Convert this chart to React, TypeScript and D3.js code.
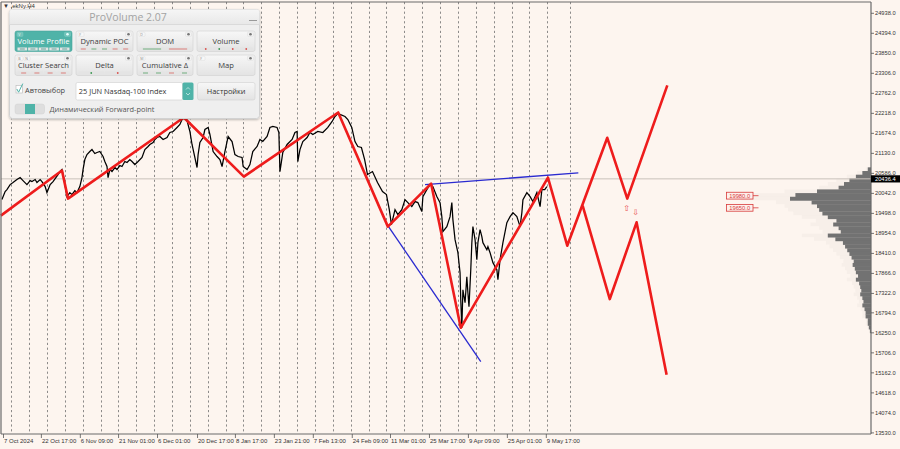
import React from 'react';
import * as d3 from 'd3';

// ---------- data ----------
const yTickValues = [24938, 24394, 23850, 23306, 22762, 22218, 21674, 21130, 20586, 20042, 19498, 18954, 18410, 17866, 17322, 16794, 16250, 15706, 15162, 14618, 14074, 13530];
const timeLabels = ['7 Oct 2024', '22 Oct 17:00', '6 Nov 09:00', '21 Nov 01:00', '6 Dec 01:00', '20 Dec 17:00', '8 Jan 17:00', '23 Jan 21:00', '7 Feb 13:00', '24 Feb 09:00', '11 Mar 01:00', '25 Mar 17:00', '9 Apr 09:00', '25 Apr 01:00', '9 May 17:00'];
const timeLabelDays = [0, 10.6, 21.5, 32.2, 43.1, 54.3, 64.9, 75.8, 86.7, 97.6, 108.3, 119.2, 130.1, 141.0, 151.9];

const priceDays = [-0.3, 0.6, 1.1, 2.0, 2.8, 3.9, 4.8, 5.6, 6.7, 7.6, 8.1, 9.0, 9.5, 10.4, 10.9, 11.8, 12.3, 13.2, 14.0, 14.8, 15.4, 15.9, 16.5, 17.1, 17.9, 18.7, 19.3, 20.1, 20.7, 21.5, 22.1, 22.4, 22.9, 23.5, 24.3, 24.9, 25.7, 26.3, 27.1, 28.0, 28.5, 29.1, 29.4, 29.9, 30.5, 31.3, 31.9, 32.7, 33.3, 34.1, 34.7, 35.5, 36.1, 36.9, 37.8, 38.9, 39.7, 40.6, 41.1, 42.0, 42.5, 43.1, 43.9, 44.8, 45.9, 46.7, 47.6, 48.7, 49.5, 50.1, 50.9, 51.5, 52.3, 52.9, 53.7, 54.3, 54.6, 55.1, 56.0, 56.5, 57.4, 57.9, 58.8, 59.9, 60.7, 61.3, 62.1, 63.0, 64.1, 64.9, 65.8, 66.9, 67.2, 68.3, 69.1, 69.9, 71.1, 71.9, 72.7, 73.9, 74.7, 75.5, 76.7, 77.2, 77.5, 78.3, 79.5, 80.9, 81.7, 82.3, 82.5, 83.1, 83.9, 85.1, 85.9, 86.7, 88.1, 89.5, 90.9, 92.1, 92.9, 93.7, 94.3, 95.7, 96.5, 97.6, 98.5, 99.3, 100.3, 101.2, 102.0, 103.4, 104.8, 106.2, 107.3, 108.1, 108.7, 109.7, 110.5, 111.6, 112.5, 113.3, 114.4, 115.3, 116.1, 117.2, 117.5, 118.6, 119.5, 120.3, 121.4, 122.3, 122.8, 123.1, 124.2, 125.1, 125.6, 125.9, 126.5, 127.3, 127.9, 128.1, 128.4, 128.7, 129.3, 129.8, 130.1, 130.4, 130.9, 131.2, 131.5, 132.1, 132.6, 132.9, 133.5, 134.0, 134.3, 135.4, 135.7, 136.3, 137.1, 138.2, 138.5, 139.1, 139.9, 141.0, 141.9, 142.7, 143.8, 144.7, 145.2, 145.5, 146.6, 147.5, 148.3, 149.4, 150.3, 150.8, 151.6, 152.2];
const priceVals = [19873, 20091, 20145, 20281, 20336, 20418, 20472, 20390, 20281, 20390, 20363, 20418, 20336, 20418, 20363, 20227, 20064, 20281, 20363, 20472, 20554, 20635, 20690, 20418, 19955, 20064, 20009, 20118, 20064, 20227, 20472, 20690, 20962, 21098, 21180, 21234, 21126, 21153, 21180, 21044, 20908, 20772, 20472, 20690, 20635, 20744, 20690, 20799, 20772, 20908, 20881, 20962, 20908, 20826, 20908, 21017, 21234, 21316, 21371, 21425, 21507, 21561, 21588, 21507, 21561, 21697, 21725, 21834, 21915, 22051, 22106, 22024, 21725, 21371, 21017, 20744, 21098, 21425, 21561, 21779, 21834, 21643, 21180, 21044, 20962, 20772, 21180, 21588, 21452, 21098, 21044, 21017, 20772, 20690, 20826, 21180, 21316, 21507, 21452, 21588, 21834, 21861, 21834, 21697, 20635, 21153, 21371, 21507, 21697, 21725, 20908, 21234, 21452, 21561, 21697, 21643, 21725, 21697, 21834, 21997, 22133, 22215, 22188, 22133, 22051, 21834, 21452, 21316, 21289, 20962, 20554, 20635, 20336, 20091, 20009, 19601, 19192, 19601, 19465, 19601, 19873, 19791, 19682, 19819, 19791, 19546, 19955, 20145, 20281, 20227, 19955, 19791, 19410, 19002, 19138, 19410, 19791, 19328, 18784, 18430, 17885, 17150, 16388, 17422, 17068, 17776, 17341, 16959, 17967, 18702, 19138, 18784, 18239, 18702, 19056, 18865, 18702, 18511, 18593, 18430, 18158, 17967, 17695, 18239, 18702, 19247, 19410, 19519, 19410, 19138, 19519, 19873, 20064, 19955, 19819, 20064, 19682, 20145, 20145, 20227];

const zigDays = [-0.6, 16.5, 18.2, 50.6, 67.4, 93.8, 107.7, 119.8, 128.1, 152.5, 157.9, 169.1, 174.7, 185.9];
const zigVals = [19437, 20663, 19900, 22106, 20499, 22242, 19138, 20309, 16388, 20472, 18620, 21553, 19900, 22977];
const altDays = [162.2, 169.8, 177.3, 185.7];
const altVals = [19710, 17169, 19255, 15108];

const upperTrendDays = [118.1, 161.0];
const upperTrendVals = [20281, 20600];
const lowerTrendDays = [107.5, 133.7];
const lowerTrendVals = [19192, 15470];

const levelVals = [19980, 19650];
const currentPrice = 20436.4;
const arrowUp = { day: 174.5, val: 19652 };
const arrowDown = { day: 177.0, val: 19543 };

const profilePrices = [20700, 20600, 20500, 20400, 20300, 20200, 20100, 20000, 19900, 19800, 19700, 19600, 19500, 19400, 19300, 19200, 19100, 19000, 18900, 18800, 18700, 18600, 18500, 18400, 18300, 18200, 18100, 18000, 17900, 17800, 17700, 17600, 17500, 17400, 17300, 17200, 17100, 17000, 16900, 16800, 16700, 16600, 16500, 16400, 16300];
const profileVols = [3, 8, 14, 20, 25, 30, 50, 70, 75, 55, 50, 48, 45, 40, 32, 35, 30, 28, 40, 33, 26, 24, 22, 20, 18, 16, 17, 15, 14, 12, 14, 11, 10, 9, 10, 8, 7, 8, 6, 5, 5, 3, 3, 2, 1];

// ---------- layout ----------
const W = 900, H = 449;
const PL = 1, PR = 871, PT = 2, PB = 434;
const BG = '#fdf5ef';

const x = d3.scaleLinear().domain([0, 242.9]).range([3, 871]);
const y = d3.scaleLinear().domain([13530, 24938]).range([432.9, 13.3]);
const gridDays = d3.range(2.3, 153, 5).concat([158.6]);

const lineGen = d3.line<[number, number]>().x(d => x(d[0])).y(d => y(d[1]));
const zip = (a: number[], b: number[]) => a.slice(0, Math.min(a.length, b.length)).map((v, i) => [v, b[i]] as [number, number]);

const RED = '#ee1c1c';
const TEAL = '#4fb3a8';

function Indicator({ bx, by, w, marks }: any) {
  const n = marks.length;
  if (!n) return null;
  const cw = (w - 4) / n;
  return (
    <g>
      {marks.map((m: any, i: number) => {
        const cx = bx + 2 + cw * i + cw / 2;
        const col = m.c === 'r' ? '#d9534f' : m.c === 'g' ? '#3f9a55' : '#2f8a80';
        return (
          <g key={i}>
            <rect x={bx + 2 + cw * i + 0.5} y={by} width={cw - 1} height={3} fill="#e4e4e4" />
            {m.t === 'dot'
              ? <circle cx={cx} cy={by + 1.5} r={0.9} fill={col} />
              : <line x1={cx - (m.t === 'line' ? cw * 0.35 : 2.5)} x2={cx + (m.t === 'line' ? cw * 0.35 : 2.5)} y1={by + 1.5} y2={by + 1.5} stroke={col} strokeWidth={0.7} />}
          </g>
        );
      })}
    </g>
  );
}

const panelButtons = [
  { label: 'Volume Profile', tags: ['V'], active: true, marks: [{ t: 'dash', c: 'd' }, { t: 'dash', c: 'd' }, { t: 'dash', c: 'd' }, { t: 'dash', c: 'd' }, { t: 'dash', c: 'd' }] },
  { label: 'Dynamic POC', tags: ['F'], marks: [{ t: 'dash', c: 'r' }, { t: 'dash', c: 'g' }, { t: 'dash', c: 'g' }, { t: 'dash', c: 'r' }, { t: 'dash', c: 'r' }] },
  { label: 'DOM', tags: ['D'], marks: [{ t: 'line', c: 'g' }, { t: 'line', c: 'r' }] },
  { label: 'Volume', tags: [], marks: [{ t: 'dot', c: 'r' }, { t: 'dot', c: 'g' }, { t: 'dot', c: 'r' }, { t: 'dot', c: 'r' }] },
  { label: 'Cluster Search', tags: ['B', 'N'], marks: [{ t: 'dash', c: 'r' }, { t: 'dash', c: 'r' }, { t: 'dash', c: 'r' }, { t: 'dash', c: 'r' }] },
  { label: 'Delta', tags: [], marks: [{ t: 'dot', c: 'g' }, { t: 'dot', c: 'r' }] },
  { label: 'Cumulative Δ', tags: ['M'], marks: [{ t: 'dash', c: 'g' }, { t: 'dash', c: 'g' }, { t: 'dash', c: 'r' }, { t: 'dash', c: 'g' }] },
  { label: 'Map', tags: ['F'], marks: [] },
];
const colX = [15, 76, 137, 197];
const colW = [57, 57, 56, 58];
const rowY = [31, 55];

function Panel() {
  const font = '"Open Sans", "Noto Sans", sans-serif';
  return (
    <g fontFamily={font}>
      <defs>
        <linearGradient id="btnG" x1="0" x2="0" y1="0" y2="1">
          <stop offset="0" stopColor="#f7f7f7" />
          <stop offset="1" stopColor="#e3e3e3" />
        </linearGradient>
        <linearGradient id="titleG" x1="0" x2="0" y1="0" y2="1">
          <stop offset="0" stopColor="#f6f6f6" />
          <stop offset="1" stopColor="#e8e8e8" />
        </linearGradient>
        <filter id="sh" x="-5%" y="-5%" width="110%" height="120%">
          <feDropShadow dx="0" dy="1" stdDeviation="1" floodColor="#000" floodOpacity="0.25" />
        </filter>
      </defs>
      <rect x={9.5} y={9.5} width={250} height={109} rx={3} fill="#efefef" stroke="#d2d2d2" filter="url(#sh)" />
      <path d="M9.5,24.5 V12.5 a3,3 0 0 1 3,-3 H256.5 a3,3 0 0 1 3,3 V24.5 Z" fill="url(#titleG)" />
      <line x1={9.5} x2={259.5} y1={24.5} y2={24.5} stroke="#dadada" />
      <text x={128} y={21} textAnchor="middle" fontSize={10.5} fill="#a3a3a3">ProVolume 2.07</text>
      <line x1={249} x2={257} y1={20.5} y2={20.5} stroke="#9a9a9a" strokeWidth={1} />
      {panelButtons.map((b, i) => {
        const bx = colX[i % 4], bw = colW[i % 4], by = rowY[Math.floor(i / 4)], bh = 20.5;
        return (
          <g key={i}>
            <rect x={bx} y={by} width={bw} height={bh} rx={2} fill={b.active ? TEAL : 'url(#btnG)'} stroke={b.active ? '#46a59a' : '#d0d0d0'} strokeWidth={0.6} />
            {b.tags.map((t, j) => (
              <g key={j}>
                <rect x={bx + 2 + j * 7} y={by + 1.2} width={6} height={4.2} rx={0.8} fill={b.active ? '#6fc3b9' : '#f8f8f8'} stroke={b.active ? '#8fd0c8' : '#d6d6d6'} strokeWidth={0.4} />
                <text x={bx + 3.2 + j * 7} y={by + 4.6} fontSize={3.6} fill={b.active ? '#e8fffc' : '#888'}>{t}</text>
              </g>
            ))}
            <rect x={bx + bw - 7.5} y={by + 1.2} width={6} height={4.2} rx={0.8} fill={b.active ? '#6fc3b9' : '#f3f3f3'} stroke={b.active ? '#8fd0c8' : '#d6d6d6'} strokeWidth={0.4} />
            <circle cx={bx + bw - 4.5} cy={by + 3.3} r={1.3} fill={b.active ? '#e8fffc' : '#777'} />
            <text x={bx + bw / 2} y={by + 12.8} textAnchor="middle" fontSize={7.6} fill={b.active ? '#ffffff' : '#3c3c3c'}>{b.label}</text>
            <Indicator bx={bx} by={by + bh - 4} w={bw} marks={b.marks} />
          </g>
        );
      })}
      <rect x={16} y={85.5} width={6.5} height={7.5} fill="#fff" stroke="#b5b5b5" strokeWidth={0.6} />
      <path d="M16.8,89 L18.6,92.2 L22.8,83.6" fill="none" stroke={TEAL} strokeWidth={1} />
      <text x={25} y={92.6} fontSize={7.4} fill="#454545">Автовыбор</text>
      <rect x={76} y={82.5} width={106.5} height={17.5} rx={1.5} fill="#ffffff" stroke="#cfcfcf" strokeWidth={0.6} />
      <text x={78.8} y={94} fontSize={7.4} fill="#333">25 JUN Nasdaq-100 Index</text>
      <rect x={182.5} y={82.5} width={11} height={17.5} rx={1.5} fill={TEAL} />
      <path d="M186,89.5 L188,87.5 L190,89.5 M186,93 L188,95 L190,93" fill="none" stroke="#dff5f2" strokeWidth={0.7} />
      <rect x={197.5} y={82.5} width={57.5} height={17.5} rx={2} fill="url(#btnG)" stroke="#d0d0d0" strokeWidth={0.6} />
      <text x={226.2} y={94} textAnchor="middle" fontSize={7.4} fill="#333">Настройки</text>
      <rect x={15} y={104} width={29.5} height={10} rx={2.5} fill="#dedede" stroke="#d0d0d0" strokeWidth={0.5} />
      <rect x={25} y={104} width={10} height={10} fill={TEAL} />
      <text x={49.5} y={112.2} fontSize={7.4} fill="#555">Динамический Forward-point</text>
    </g>
  );
}

export default function App() {
  const price = zip(priceDays, priceVals);
  const zig = zip(zigDays, zigVals);
  const alt = zip(altDays, altVals);
  const upT = zip(upperTrendDays, upperTrendVals);
  const loT = zip(lowerTrendDays, lowerTrendVals);
  const binH = Math.abs(y(0) - y(100));
  const volK = 1.08;
  const axisFont = '"Liberation Sans", Arial, sans-serif';

  return (
    <svg width={W} height={H} style={{ position: 'absolute', left: 0, top: 0, display: 'block' }} xmlns="http://www.w3.org/2000/svg">
      <rect x={0} y={0} width={W} height={H} fill={BG} />
      <defs>
        <clipPath id="plot"><rect x={PL} y={PT} width={PR - PL} height={PB - PT} /></clipPath>
      </defs>

      <g clipPath="url(#plot)">
        {gridDays.map((d, i) => (
          <line key={i} x1={Math.round(x(d)) + 0.5} x2={Math.round(x(d)) + 0.5} y1={PT} y2={PB} stroke="#707070" strokeWidth={0.8} strokeDasharray="2.2,2.6" />
        ))}
      </g>

      <g clipPath="url(#plot)">
        {profilePrices.map((p, i) => (
          <rect key={'t' + i} x={PR - profileVols[i] * volK * 1.6} y={y(p) - binH / 2} width={profileVols[i] * volK * 1.6} height={binH} fill="#8a8a8a" opacity={0.05} />
        ))}
        {profilePrices.map((p, i) => (
          <rect key={i} x={PR - profileVols[i] * volK} y={y(p) - binH / 2} width={profileVols[i] * volK} height={binH + 0.3} fill="#727272" />
        ))}
      </g>

      <line x1={PL} x2={PR} y1={y(currentPrice)} y2={y(currentPrice)} stroke="#c9c1bb" strokeWidth={1} />

      <path d={lineGen(price) || ''} fill="none" stroke="#000" strokeWidth={1.25} strokeLinejoin="miter" />

      <path d={lineGen(upT) || ''} stroke="#2a2ad0" strokeWidth={1.3} fill="none" />
      <path d={lineGen(loT) || ''} stroke="#2a2ad0" strokeWidth={1.3} fill="none" />

      <path d={lineGen(zig) || ''} stroke={RED} strokeWidth={2.6} fill="none" strokeLinejoin="round" />
      <path d={lineGen(alt) || ''} stroke={RED} strokeWidth={2.6} fill="none" strokeLinejoin="round" />

      <text x={x(arrowUp.day)} y={y(arrowUp.val) + 3.5} textAnchor="middle" fontSize={8} fill="#e84a4a" fontFamily="DejaVu Sans">⇧</text>
      <text x={x(arrowDown.day)} y={y(arrowDown.val) + 3.5} textAnchor="middle" fontSize={8} fill="#e84a4a" fontFamily="DejaVu Sans">⇩</text>

      {levelVals.map((v, i) => (
        <g key={i} fontFamily={axisFont}>
          <rect x={726.5} y={y(v) - 3.4} width={26.5} height={6.8} fill="#fdf0ec" stroke="#d83a3a" strokeWidth={0.8} />
          <line x1={753} x2={758.5} y1={y(v)} y2={y(v)} stroke="#d83a3a" strokeWidth={0.8} />
          <text x={739.7} y={y(v) + 2.1} textAnchor="middle" fontSize={5.8} fill="#d83a3a">{v.toFixed(1)}</text>
        </g>
      ))}

      <line x1={PL} x2={PR} y1={PT} y2={PT} stroke="#6a6a6a" strokeWidth={1.2} />
      <line x1={PL} x2={PL} y1={PT} y2={PB} stroke="#6a6a6a" strokeWidth={1.2} />
      <line x1={PR} x2={PR} y1={PT} y2={PB} stroke="#6a6a6a" strokeWidth={1.2} />
      <line x1={PL} x2={PR} y1={PB} y2={PB} stroke="#6a6a6a" strokeWidth={1.2} />

      <g fontFamily={axisFont} fontSize={5.7} fill="#333">
        {yTickValues.map((v, i) => (
          <g key={i}>
            <line x1={PR} x2={PR + 3} y1={y(v)} y2={y(v)} stroke="#555" strokeWidth={0.8} />
            <text x={PR + 4} y={y(v) + 2}>{v.toFixed(1)}</text>
          </g>
        ))}
        <rect x={PR} y={y(currentPrice) - 3.6} width={29} height={7.2} fill="#000" />
        <text x={PR + 4} y={y(currentPrice) + 2} fill="#fff">{currentPrice.toFixed(1)}</text>
      </g>

      <g fontFamily={axisFont} fontSize={6} fill="#333">
        {timeLabels.map((t, i) => (
          <g key={i}>
            <line x1={x(timeLabelDays[i]) + 0.5} x2={x(timeLabelDays[i]) + 0.5} y1={PB} y2={PB + 4} stroke="#555" strokeWidth={0.8} />
            <text x={x(timeLabelDays[i]) + 1} y={442.5}>{t}</text>
          </g>
        ))}
      </g>

      <text x={3} y={8} fontSize={6} fill="#333" fontFamily={axisFont}>▼ .ekNy.H4</text>

      <Panel />
    </svg>
  );
}
